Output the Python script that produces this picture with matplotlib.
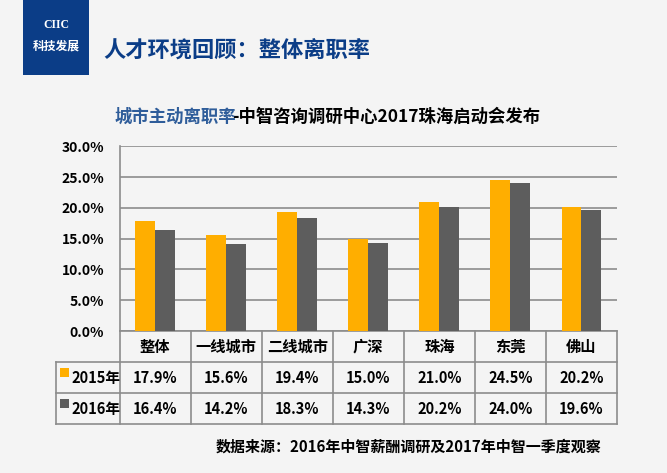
import matplotlib.pyplot as plt
from matplotlib.patches import Rectangle

plt.rcParams['font.family'] = ['Noto Sans CJK SC', 'DejaVu Sans']

cities = ["整体", "一线城市", "二线城市", "广深", "珠海", "东莞", "佛山"]
rate_2015 = [17.9, 15.6, 19.4, 15.0, 21.0, 24.5, 20.2]
rate_2016 = [16.4, 14.2, 18.3, 14.3, 20.2, 24.0, 19.6]
series_names = ["2015年", "2016年"]
y_ticks = [0, 5, 10, 15, 20, 25, 30]

BG = "#f4f4f4"
ORANGE = "#ffae00"
GRAY = "#5d5d5d"
LINE = "#8c8c8c"
NAVY = "#0b3d87"

W, H = 667, 473
fig = plt.figure(figsize=(W / 100, H / 100), dpi=100, facecolor=BG)


def fx(px):
    return px / W


def fy(py):
    return 1 - py / H


# header block
fig.patches.append(Rectangle((fx(23), fy(75)), fx(66), 75 / H, transform=fig.transFigure,
                             facecolor=NAVY, edgecolor="none"))
fig.text(fx(56), fy(25), "CIIC", color="white", fontsize=8.5, fontweight="bold",
         family="Liberation Serif", ha="center", va="center")
fig.text(fx(56), fy(46), "科技发展", color="white", fontsize=8.5, fontweight="bold",
         ha="center", va="center")
fig.text(fx(103), fy(50), "人才环境回顾：整体离职率", color=NAVY, fontsize=16,
         fontweight="bold", ha="left", va="center")

# main bar axes
left, right, top, bottom = 119.5, 617, 146.3, 331
ax = fig.add_axes([fx(left), fy(bottom), fx(right - left), (bottom - top) / H])
ax.set_facecolor(BG)
x = list(range(len(cities)))
w = 0.28
ax.bar([i - w / 2 for i in x], rate_2015, width=w, color=ORANGE, zorder=3)
ax.bar([i + w / 2 for i in x], rate_2016, width=w, color=GRAY, zorder=3)
ax.set_xlim(-0.5, len(cities) - 0.5)
ax.set_ylim(0, 30)
ax.set_yticks(y_ticks)
ax.set_yticklabels([f"{v:.1f}%" for v in y_ticks], fontsize=10, fontweight="bold")
ax.tick_params(axis="y", length=0, pad=11)
ax.set_xticks([])
ax.grid(axis="y", color=LINE, linewidth=1.2, zorder=0)
for s in ["top", "right"]:
    ax.spines[s].set_visible(False)
ax.spines["left"].set_color(LINE)
ax.spines["left"].set_linewidth(1.2)
ax.spines["bottom"].set_color(LINE)
ax.spines["bottom"].set_linewidth(1.2)

# chart title in two colours
t1 = fig.text(fx(115), fy(117), "城市主动离职率", color="#2f5d9a", fontsize=12.5,
              fontweight="bold", ha="left", va="center")
ax.annotate("-中智咨询调研中心2017珠海启动会发布", xy=(1, 0.5), xycoords=t1,
            xytext=(-3, 0), textcoords="offset points",
            va="center", ha="left", fontsize=12.5, fontweight="bold", color="black",
            annotation_clip=False)

# data table under the chart
tbl_bottom = 424
tax = fig.add_axes([fx(left), fy(tbl_bottom), fx(right - left), (tbl_bottom - bottom) / H])
tax.set_xlim(-0.5, len(cities) - 0.5)
tax.set_ylim(3, 0)
tax.axis("off")
col_w = (right - left) / len(cities)
x_left = (56 - left) / col_w - 0.5
lk = dict(color=LINE, linewidth=1.2, clip_on=False)
for i in range(len(cities) + 1):
    tax.plot([i - 0.5, i - 0.5], [0, 3], **lk)
for r in [1, 2, 3]:
    tax.plot([x_left, len(cities) - 0.5], [r, r], **lk)
tax.plot([x_left, x_left], [1, 3], **lk)

for i, c in enumerate(cities):
    tax.text(i, 0.5, c, ha="center", va="center", fontsize=11, fontweight="bold")
    tax.text(i, 1.5, f"{rate_2015[i]:.1f}%", ha="center", va="center", fontsize=10.5,
             fontweight="bold")
    tax.text(i, 2.5, f"{rate_2016[i]:.1f}%", ha="center", va="center", fontsize=10.5,
             fontweight="bold")

sq = 9 / col_w
for r, (name, col) in enumerate(zip(series_names, [ORANGE, GRAY])):
    tax.add_patch(Rectangle(((60 - left) / col_w - 0.5, 1 + r + 0.19), sq, 0.29,
                            facecolor=col, edgecolor="none", clip_on=False))
    tax.text((71 - left) / col_w - 0.5, 1 + r + 0.5, name, ha="left", va="center",
             fontsize=10.5, fontweight="bold")

fig.text(fx(216), fy(447), "数据来源：2016年中智薪酬调研及2017年中智一季度观察",
         fontsize=10.8, fontweight="bold", ha="left", va="center")

fig.savefig("out.png", dpi=100, facecolor=BG)
